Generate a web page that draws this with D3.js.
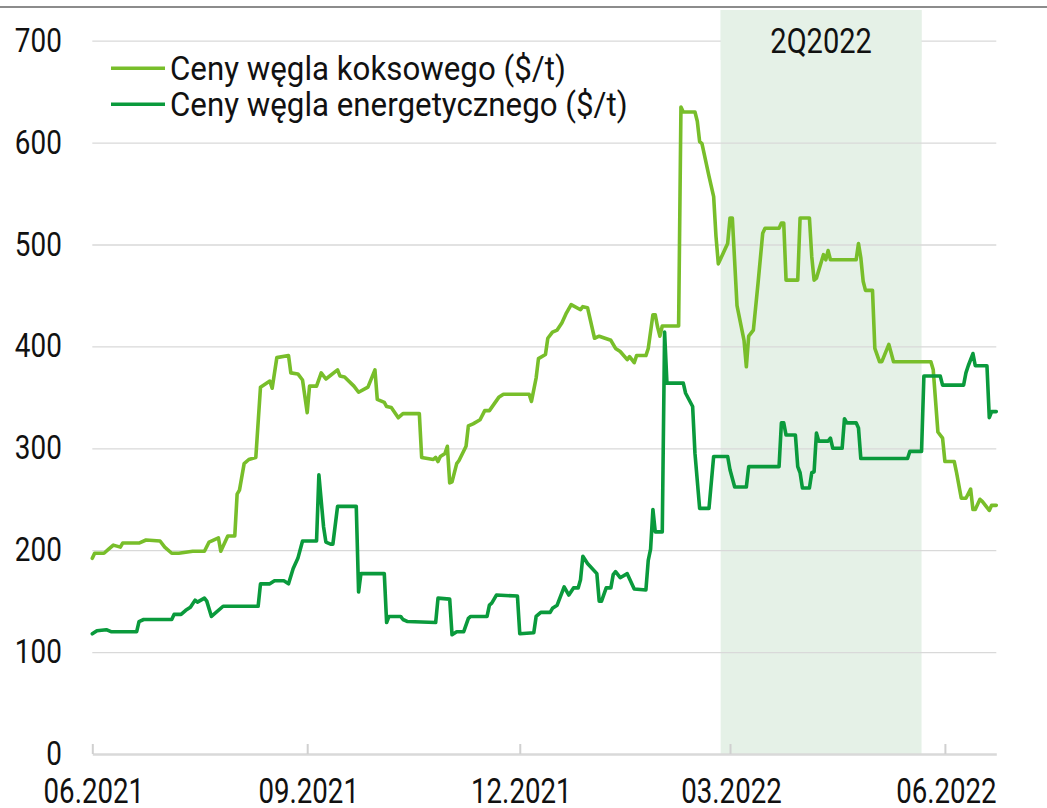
<!DOCTYPE html>
<html>
<head>
<meta charset="utf-8">
<script src="https://cdn.jsdelivr.net/npm/d3@7"></script>
<style>
  body { margin: 0; background: #fff; }
  svg { display: block; }
  text { font-family: Roboto, "Noto Sans", sans-serif; fill: #111; }
</style>
</head>
<body>
<svg id="chart" width="1047" height="808"></svg>
<script>
// days counted from 2021-06-01
var startDate = "2021-06-01";
var endDay = 387;

var cokingDays = [
  0, 1, 5, 7, 9, 12, 13, 20, 23, 29,
  31, 34, 37, 43, 48, 50, 54, 55, 58, 61,
  62, 63, 65, 67, 70, 72, 76, 77, 79, 84,
  85, 88, 90, 92, 93, 96, 98, 100, 105, 106,
  108, 112, 114, 118, 121, 122, 125, 126, 128, 131,
  133, 140, 141, 146, 147, 148, 149, 151, 152, 153,
  154, 156, 157, 160, 161, 163, 166, 168, 170, 174,
  176, 187, 188, 190, 191, 194, 195, 197, 199, 201,
  203, 205, 209, 210, 212, 215, 217, 222, 224, 226,
  229, 230, 232, 233, 237, 238, 240, 241, 242, 243,
  244, 251, 252, 253, 258, 259, 260, 261, 264, 266,
  267, 268, 271, 272, 273, 274, 276, 279, 280, 281,
  283, 285, 287, 288, 294, 295, 296, 297, 302, 303,
  307, 308, 309, 310, 313, 314, 315, 316, 327, 328,
  329, 330, 331, 334, 335, 337, 338, 341, 343, 359,
  360, 362, 364, 365, 369, 370, 372, 374, 376, 377,
  378, 380, 381, 384, 385, 387
];
var cokingValues = [
  192, 197, 197, 201, 205, 203, 207, 207, 210, 209,
  203, 197, 197, 199, 199, 208, 212, 199, 214, 214,
  255, 259, 285, 289, 291, 360, 366, 359, 389, 391,
  374, 373, 367, 335, 361, 361, 374, 368, 377, 371,
  370, 361, 355, 360, 377, 348, 345, 341, 340, 330,
  334, 334, 291, 289, 291, 287, 292, 295, 302, 266,
  267, 285, 288, 302, 322, 324, 328, 337, 337, 350,
  353, 353, 346, 369, 388, 392, 408, 414, 416, 423,
  433, 441, 436, 439, 438, 408, 410, 406, 398, 395,
  387, 390, 384, 391, 391, 398, 431, 431, 419, 410,
  420, 420, 635, 630, 630, 621, 601, 599, 567, 547,
  508, 481, 496, 501, 526, 526, 440, 406, 380, 410,
  416, 462, 511, 516, 516, 521, 521, 465, 465, 526,
  526, 488, 465, 467, 490, 485, 494, 485, 485, 501,
  487, 464, 455, 455, 398, 385, 385, 402, 385, 385,
  377, 316, 310, 287, 287, 276, 251, 251, 260, 240,
  240, 250, 248, 239, 244, 244
];

var thermalDays = [
  0, 2, 6, 8, 19, 20, 22, 34, 35, 38,
  40, 42, 44, 45, 48, 49, 51, 56, 71, 72,
  76, 78, 82, 84, 86, 88, 90, 96, 97, 99,
  100, 102, 103, 105, 113, 114, 115, 125, 126, 127,
  132, 133, 135, 147, 148, 153, 154, 156, 159, 161,
  162, 169, 170, 171, 173, 182, 183, 189, 190, 192,
  196, 197, 199, 202, 204, 206, 208, 209, 210, 212,
  216, 217, 218, 220, 222, 223, 224, 226, 229, 232,
  237, 238, 239, 240, 241, 244, 245, 246, 253, 254,
  257, 258, 260, 264, 266, 272, 273, 275, 280, 281,
  294, 295, 296, 297, 301, 302, 303, 304, 307, 308,
  309, 310, 311, 315, 316, 317, 321, 322, 323, 327,
  328, 329, 349, 350, 355, 356, 363, 364, 373, 374,
  375, 377, 378, 383, 384, 385, 387
];
var thermalValues = [
  118, 121, 122, 120, 120, 130, 132, 132, 137, 137,
  141, 144, 151, 149, 153, 150, 135, 145, 145, 167,
  167, 170, 170, 167, 182, 192, 209, 209, 274, 223,
  208, 206, 206, 243, 243, 159, 177, 177, 129, 135,
  135, 132, 130, 129, 153, 152, 117, 120, 120, 133,
  135, 135, 146, 148, 156, 155, 118, 119, 135, 139,
  139, 143, 146, 164, 156, 163, 163, 171, 194, 187,
  177, 150, 150, 163, 163, 176, 179, 173, 177, 162,
  161, 190, 201, 240, 218, 218, 414, 364, 364, 354,
  341, 295, 241, 241, 292, 292, 279, 262, 262, 282,
  282, 325, 325, 313, 313, 282, 276, 261, 261, 276,
  277, 315, 307, 307, 310, 300, 300, 329, 325, 325,
  320, 290, 290, 297, 297, 371, 371, 362, 362, 374,
  381, 393, 381, 381, 330, 336, 336
];

var seriesNames = ["Ceny węgla koksowego ($/t)", "Ceny węgla energetycznego ($/t)"];
var seriesColors = ["#78be2a", "#0a9a3c"];

var yTicks = [0, 100, 200, 300, 400, 500, 600, 700];
var xTickDates = ["2021-06-01", "2021-09-01", "2021-12-01", "2022-03-01", "2022-06-01"];
var shadeStart = "2022-02-25";
var shadeEnd = "2022-05-22";
var shadeLabel = "2Q2022";

var parse = d3.timeParse("%Y-%m-%d");
var t0 = parse(startDate);
function dayDate(d) { return d3.timeDay.offset(t0, d); }

// the original font is a narrow one, so text is squeezed sideways
function squeeze(sel, tx, ty, sx) {
  sel.attr("x", null).attr("y", null).attr("dy", null)
    .attr("transform", `translate(${tx},${ty}) scale(${sx},1)`);
}

var svg = d3.select("#chart");
var plotL = 92.3, plotR = 996.3, plotT = 40.7, plotB = 754;

var x = d3.scaleTime()
  .domain([t0, dayDate(endDay)])
  .range([plotL, plotR]);

var y = d3.scaleLinear()
  .domain([0, 700])
  .range([plotB, plotT]);

// top border
svg.append("line")
  .attr("x1", 0).attr("x2", 1047)
  .attr("y1", 7).attr("y2", 7)
  .style("stroke", "#8c8c8c")
  .style("stroke-width", 2);

// shaded quarter
var sx0 = x(parse(shadeStart)), sx1 = x(parse(shadeEnd));
svg.append("rect")
  .attr("x", sx0).attr("y", 10)
  .attr("width", sx1 - sx0).attr("height", plotB - 10)
  .style("fill", "#e5f1e7");

// gridlines + y labels
var yAxis = svg.append("g")
  .attr("transform", `translate(${plotL},0)`)
  .call(d3.axisLeft(y).tickValues(yTicks).tickSize(-(plotR - plotL)));
yAxis.attr("font-size", null).attr("font-family", null);
yAxis.select(".domain").remove();
yAxis.selectAll(".tick line")
  .style("stroke", "#d9d9d9")
  .style("stroke-width", 1.3)
  .style("display", d => d === 0 ? "none" : null);
yAxis.selectAll(".tick text")
  .style("font-size", "34px")
  .attr("text-anchor", "end")
  .call(squeeze, -30.5, 10.5, 0.82);

// label box of the quarter hides the top gridline
svg.append("rect")
  .attr("x", sx0).attr("y", 10)
  .attr("width", sx1 - sx0).attr("height", 50)
  .style("fill", "#e5f1e7");
svg.append("text")
  .style("font-size", "35px")
  .attr("text-anchor", "middle")
  .text(shadeLabel)
  .call(squeeze, (sx0 + sx1) / 2, 53, 0.83);

// x axis
var xAxis = svg.append("g")
  .attr("transform", `translate(0,${plotB})`)
  .call(d3.axisBottom(x)
    .tickValues(xTickDates.map(parse))
    .tickFormat(d3.timeFormat("%m.%Y"))
    .tickSizeInner(-10)
    .tickSizeOuter(0));
xAxis.attr("font-size", null).attr("font-family", null);
xAxis.select(".domain")
  .style("stroke", "#d9d9d9")
  .style("stroke-width", 2.4);
xAxis.selectAll(".tick line")
  .style("stroke", "#d0d0d0")
  .style("stroke-width", 2);
xAxis.selectAll(".tick text")
  .style("font-size", "35px")
  .attr("text-anchor", "middle")
  .call(squeeze, 1, 49, 0.79);

// lines
var line = d3.line()
  .x(d => x(dayDate(d[0])))
  .y(d => y(d[1]));

var series = [
  d3.zip(cokingDays, cokingValues),
  d3.zip(thermalDays, thermalValues)
];

svg.selectAll(".series")
  .data(series)
  .enter().append("path")
  .attr("class", "series")
  .attr("d", line)
  .style("fill", "none")
  .style("stroke", (d, i) => seriesColors[i])
  .style("stroke-width", 3.6)
  .style("stroke-linejoin", "round")
  .style("stroke-linecap", "round");

// legend
var legend = svg.selectAll(".legend")
  .data(seriesNames)
  .enter().append("g")
  .attr("class", "legend")
  .attr("transform", (d, i) => `translate(111,${68.3 + i * 36})`);
legend.append("line")
  .attr("x1", 0).attr("x2", 54)
  .style("stroke", (d, i) => seriesColors[i])
  .style("stroke-width", 3.5);
legend.append("text")
  .style("font-size", "34px")
  .text(d => d)
  .call(squeeze, 59, 12, 0.92);
</script>
</body>
</html>
